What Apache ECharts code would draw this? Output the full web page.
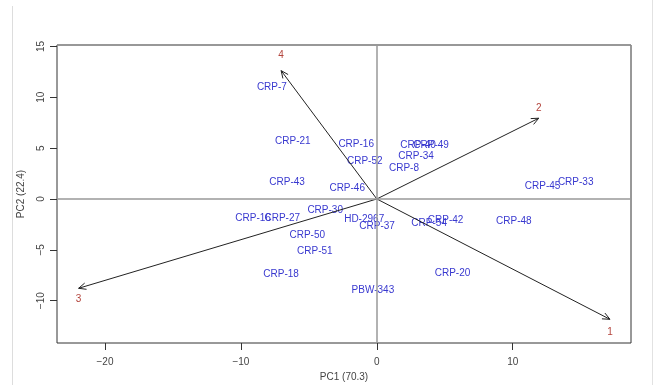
<!DOCTYPE html>
<html>
<head>
<meta charset="utf-8">
<script src="https://cdn.jsdelivr.net/npm/echarts@6/dist/echarts.min.js"></script>
<style>
html,body{margin:0;padding:0;background:#fff;}
#c{width:654px;height:385px;}
</style>
</head>
<body>
<div id="c"></div>
<script>
// ---- data ----
const genotypes = ['CRP-7','CRP-21','CRP-16','CRP-52','CRP-43','CRP-46','CRP-40','CRP-49','CRP-34','CRP-8','CRP-45','CRP-33','CRP-30','CRP-16','CRP-27','HD-2967','CRP-37','CRP-54','CRP-42','CRP-48','CRP-50','CRP-51','CRP-18','PBW-343','CRP-20'];
const pc1 = [-7.72,-6.18,-1.52,-0.89,-6.6,-2.18,3.04,3.99,2.89,2.0,12.2,14.63,-3.8,-9.1,-6.96,-0.93,0.02,3.85,5.06,10.08,-5.12,-4.56,-7.04,-0.29,5.57];
const pc2 = [10.94,5.63,5.38,3.67,1.6,1.05,5.31,5.31,4.16,2.98,1.28,1.6,-1.15,-1.87,-1.87,-1.97,-2.65,-2.4,-2.13,-2.23,-3.54,-5.11,-7.37,-9.02,-7.31];
const varNames = ['1','2','3','4'];
const loadX = [17.15, 11.91, -21.94, -7.04];
const loadY = [-11.83, 7.94, -8.78, 12.62];
const xTicks = [-20,-10,0,10];
const yTicks = [-10,-5,0,5,10,15];
const xName = 'PC1 (70.3)';
const yName = 'PC2 (22.4)';

// ---- styles ----
const FONT = '"Liberation Sans", Arial, sans-serif';
const arrowLabelDy = [13, -10, 11, -15];
const minus = s => String(s).replace(/^-/, '\u2212');

const chart = echarts.init(document.getElementById('c'), null, {renderer: 'canvas'});

const ptData = genotypes.map((g, i) => [pc1[i], pc2[i], g]);
const arData = varNames.map((v, i) => [loadX[i], loadY[i], v, i]);

chart.setOption({
  animation: false,
  backgroundColor: '#fff',
  grid: {left: 57, right: 23, top: 45, bottom: 42, outerBoundsMode: 'none', containLabel: false, show: true, borderColor: '#333', borderWidth: 1, backgroundColor: 'transparent'},
  xAxis: {
    type: 'value', min: -23.53, max: 18.7,
    splitLine: {show: false},
    axisLine: {show: false, onZero: false},
    axisTick: {show: true, length: 7, inside: false, customValues: xTicks, lineStyle: {color: '#333'}},
    axisLabel: {customValues: xTicks, margin: 14, fontSize: 10, color: '#444', fontFamily: FONT, formatter: v => minus(v)},
    name: xName, nameLocation: 'middle', nameGap: 26,
    nameTextStyle: {fontSize: 10, color: '#444', fontFamily: FONT}
  },
  yAxis: {
    type: 'value', min: -14.16, max: 15.14,
    splitLine: {show: false},
    axisLine: {show: false, onZero: false},
    axisTick: {show: true, length: 7, inside: false, customValues: yTicks, lineStyle: {color: '#333'}},
    axisLabel: {customValues: yTicks, margin: 11, rotate: 90, fontSize: 10, color: '#444', fontFamily: FONT, formatter: v => minus(v)},
    name: yName, nameLocation: 'middle', nameGap: 31, nameRotate: 90,
    nameTextStyle: {fontSize: 10, color: '#444', fontFamily: FONT}
  },
  graphic: [
    {type: 'line', shape: {x1: 12.5, y1: 6, x2: 12.5, y2: 385}, style: {stroke: '#ddd', lineWidth: 1}, silent: true},
    {type: 'line', shape: {x1: 652.5, y1: 0, x2: 652.5, y2: 385}, style: {stroke: '#e2e2e2', lineWidth: 1}, silent: true},
    {type: 'line', shape: {x1: 57, y1: 45, x2: 631, y2: 45}, style: {stroke: '#999', lineWidth: 1.5}, silent: true, z: 10}
  ],
  series: [
    {
      type: 'custom',
      name: 'genotypes',
      coordinateSystem: 'cartesian2d',
      data: ptData,
      encode: {x: 0, y: 1},
      z: 3,
      markLine: {
        silent: true, symbol: 'none', label: {show: false},
        lineStyle: {color: '#999', width: 1.5, type: 'solid'},
        data: [{xAxis: 0}, {yAxis: 0}]
      },
      renderItem: (params, api) => {
        const p = api.coord([api.value(0), api.value(1)]);
        return {
          type: 'text',
          style: {
            x: p[0], y: p[1], text: genotypes[params.dataIndex],
            fill: '#3838cf', font: '10px ' + FONT,
            textAlign: 'center', textVerticalAlign: 'middle'
          }
        };
      }
    },
    {
      type: 'custom',
      name: 'variables',
      coordinateSystem: 'cartesian2d',
      data: arData,
      encode: {x: 0, y: 1},
      z: 4,
      renderItem: (params, api) => {
        const i = params.dataIndex;
        const o = api.coord([0, 0]);
        const e = api.coord([api.value(0), api.value(1)]);
        const ang = Math.atan2(e[1] - o[1], e[0] - o[0]);
        const L = 8, a = Math.PI / 7.5;
        const h1 = [e[0] - L * Math.cos(ang - a), e[1] - L * Math.sin(ang - a)];
        const h2 = [e[0] - L * Math.cos(ang + a), e[1] - L * Math.sin(ang + a)];
        return {
          type: 'group',
          children: [
            {type: 'line', shape: {x1: o[0], y1: o[1], x2: e[0], y2: e[1]}, style: {stroke: '#222', lineWidth: 1}},
            {type: 'polyline', shape: {points: [h1, e, h2]}, style: {stroke: '#222', lineWidth: 1, fill: null}},
            {type: 'text', style: {x: e[0], y: e[1] + arrowLabelDy[i], text: varNames[i], fill: '#b3443c', font: '10px ' + FONT, textAlign: 'center', textVerticalAlign: 'middle'}}
          ]
        };
      }
    }
  ]
});
</script>
</body>
</html>
